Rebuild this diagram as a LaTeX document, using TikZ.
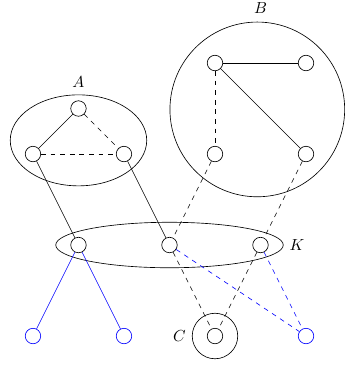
\documentclass[tikz,border=0pt]{standalone}
\usepackage{tikz}

\begin{document}
\begin{tikzpicture}[x=1cm, y=1cm,
  vert/.style={circle, draw, inner sep=0pt, minimum size=0.34cm},
  bvert/.style={vert, blue}]
  \useasboundingbox (-0.725,-0.637) rectangle (6.857,7.385);
  % Sets
  \draw (1,4.3) ellipse [x radius=1.5, y radius=1];
  \draw (4.93,4.98) circle (1.92);
  \draw (3,2) ellipse [x radius=2.5, y radius=0.5];
  \draw (4,0) circle (0.5);
  % Labels
  \node (labA) at (1,5.58) {$A$};
  \node (labB) at (5,7.2) {$B$};
  \node (labK) at (5.8,2) {$K$};
  \node (labC) at (3.22,0) {$C$};
  % Vertices of A
  \node[vert] (a1) at (1,5) {};
  \node[vert] (a2) at (0,4) {};
  \node[vert] (a3) at (2,4) {};
  % Vertices of B
  \node[vert] (b1) at (4,6) {};
  \node[vert] (b2) at (6,6) {};
  \node[vert] (b3) at (4,4) {};
  \node[vert] (b4) at (6,4) {};
  % Vertices of K
  \node[vert] (k1) at (1,2) {};
  \node[vert] (k2) at (3,2) {};
  \node[vert] (k3) at (5,2) {};
  % Bottom row
  \node[bvert] (l1) at (0,0) {};
  \node[bvert] (l2) at (2,0) {};
  \node[vert] (c1) at (4,0) {};
  \node[bvert] (r1) at (6,0) {};
  % Edges
  \draw (a1) -- (a2);
  \draw[dashed] (a1) -- (a3);
  \draw[dashed] (a2) -- (a3);
  \draw (b1) -- (b2);
  \draw (b1) -- (b4);
  \draw[dashed] (b1) -- (b3);
  \draw (a2) -- (k1);
  \draw (a3) -- (k2);
  \draw[dashed] (b3) -- (k2);
  \draw[dashed] (b4) -- (k3);
  \draw[blue] (k1) -- (l1);
  \draw[blue] (k1) -- (l2);
  \draw[dashed] (k2) -- (c1);
  \draw[dashed] (k3) -- (c1);
  \draw[blue, dashed] (k2) -- (r1);
  \draw[blue, dashed] (k3) -- (r1);
\end{tikzpicture}
\end{document}
